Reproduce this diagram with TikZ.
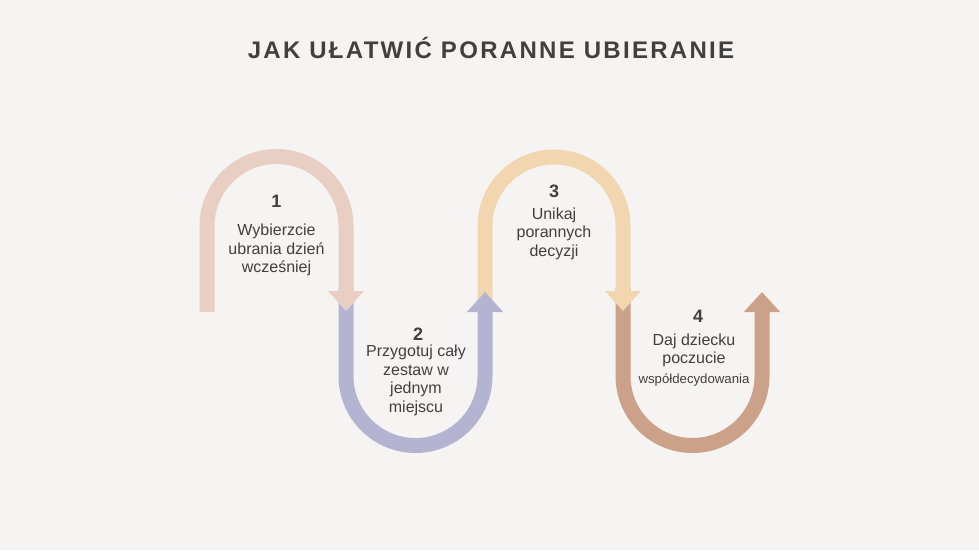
\documentclass[tikz,border=0pt]{standalone}
\usepackage{fontspec}
\setmainfont{Liberation Sans}
\newfontfamily\titlefont{Liberation Sans}[LetterSpace=9.6]
\usetikzlibrary{arrows.meta}
\definecolor{bg}{HTML}{F6F4F2}
\definecolor{txt}{HTML}{404040}
\definecolor{cpink}{HTML}{E9CEC3}
\definecolor{cpurple}{HTML}{B4B3D2}
\definecolor{cyellow}{HTML}{F1D6B0}
\definecolor{cbrown}{HTML}{CBA189}
\begin{document}
\begin{tikzpicture}[x=1pt,y=1pt,
  band/.style={line width=15pt,-{Triangle[width=35pt,length=20pt]}},
  num/.style={text=txt,font=\bfseries\fontsize{18}{20}\selectfont,inner sep=0pt},
  body/.style={text=txt,font=\fontsize{16}{18.5}\selectfont,align=center,inner sep=0pt},
  small/.style={text=txt,font=\fontsize{13.2}{15}\selectfont,inner sep=0pt}]
\fill[bg] (0,0) rectangle (979,550);
\useasboundingbox (0,0) rectangle (979,550);
\node[text=txt,font=\titlefont\bfseries\fontsize{24}{28}\selectfont,inner sep=0pt] (title) at (491,502) {JAK UŁATWIĆ PORANNE UBIERANIE};
% coordinates
\coordinate (a1) at (207,238);
\coordinate (b1) at (207,324);
\coordinate (c1) at (346,324);
\coordinate (d1) at (346,239);
\coordinate (a2) at (346,262);
\coordinate (b2) at (346,174);
\coordinate (c2) at (485,174);
\coordinate (d2) at (485,258);
\coordinate (a3) at (485,250);
\coordinate (b3) at (485,324);
\coordinate (c3) at (623,324);
\coordinate (d3) at (623,239);
\coordinate (a4) at (623,262);
\coordinate (b4) at (623,174);
\coordinate (c4) at (762,174);
\coordinate (d4) at (762,258);
% bands, drawn back to front
\draw[band,cbrown] (a4) -- (b4) arc[start angle=180,end angle=360,radius=69.5] -- (d4);
\draw[band,cyellow] (a3) -- (b3) arc[start angle=180,end angle=0,radius=69] -- (d3);
\draw[band,cpurple] (a2) -- (b2) arc[start angle=180,end angle=360,radius=69.5] -- (d2);
\draw[band,cpink] (a1) -- (b1) arc[start angle=180,end angle=0,radius=69.5] -- (d1);
% texts
\node[num] (n1) at (276.5,349) {1};
\node[body] (t1) at (276.5,300) {Wybierzcie\\ubrania dzień\\wcześniej};
\node[num] (n2) at (418,216) {2};
\node[body] (t2) at (416,169.5) {Przygotuj cały\\zestaw w\\jednym\\miejscu};
\node[num] (n3) at (554,359) {3};
\node[body] (t3) at (554,316.5) {Unikaj\\porannych\\decyzji};
\node[num] (n4) at (698,234) {4};
\node[body] (t4) at (694,199.5) {Daj dziecku\\poczucie};
\node[small] (t4b) at (694,170) {współdecydowania};
\end{tikzpicture}
\end{document}
